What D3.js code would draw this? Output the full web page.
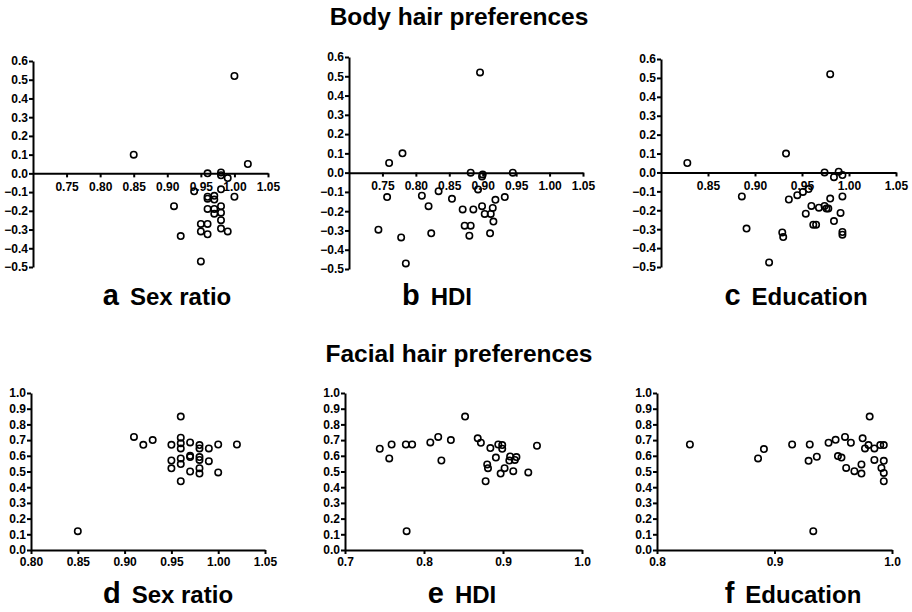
<!DOCTYPE html>
<html>
<head>
<meta charset="utf-8">
<script src="https://cdn.jsdelivr.net/npm/d3@7"></script>
<style>
  body { margin: 0; background: #fff; }
  svg { font-family: "Liberation Sans", Arial, sans-serif; }
  .axis path, .axis line { stroke: #000; stroke-width: 2; }
  .axis text { font-family: "Liberation Sans", Arial, sans-serif; font-size: 12px; font-weight: bold; fill: #000; }
</style>
</head>
<body>
<div id="chart"></div>
<script>
// Body hair preferences (y) against sex ratio, HDI and education (x)
var bodySexRatioX = [1.00, 0.85, 1.02, 0.96, 0.98, 0.98, 0.99, 0.94, 0.98, 0.97, 0.96, 0.96, 0.97, 1.00, 0.91,
                     0.98, 0.96, 0.97, 0.97, 0.98, 0.98, 0.95, 0.96, 0.98, 0.95, 0.99, 0.96, 0.92, 0.95];
var bodySexRatioY = [0.52, 0.10, 0.05, 0.00, 0.005, -0.01, -0.025, -0.096, -0.085, -0.12, -0.125, -0.135, -0.14, -0.125, -0.175,
                     -0.175, -0.19, -0.19, -0.215, -0.21, -0.25, -0.27, -0.27, -0.295, -0.31, -0.31, -0.325, -0.335, -0.47];

var bodyHdiX = [0.896, 0.780, 0.760, 0.882, 0.900, 0.899, 0.945, 0.893, 0.834, 0.809, 0.757, 0.854, 0.933, 0.919, 0.819,
                0.899, 0.870, 0.886, 0.915, 0.903, 0.912, 0.916, 0.873, 0.882, 0.744, 0.823, 0.911, 0.880, 0.778, 0.785];
var bodyHdiY = [0.52, 0.10, 0.05, 0.00, -0.01, -0.02, 0.00, -0.087, -0.096, -0.12, -0.127, -0.136, -0.127, -0.141, -0.174,
                -0.174, -0.191, -0.191, -0.183, -0.214, -0.214, -0.254, -0.275, -0.275, -0.296, -0.315, -0.315, -0.327, -0.336, -0.471];

var bodyEduX = [0.980, 0.933, 0.828, 0.974, 0.989, 0.984, 0.993, 0.993, 0.980, 0.886, 0.936, 0.945, 0.951, 0.957, 0.960,
                0.974, 0.968, 0.976, 0.978, 0.954, 0.991, 0.984, 0.962, 0.965, 0.891, 0.929, 0.930, 0.993, 0.993, 0.915];
var bodyEduY = [0.52, 0.10, 0.05, 0.00, 0.004, -0.025, -0.014, -0.127, -0.138, -0.127, -0.143, -0.12, -0.103, -0.088, -0.177,
                -0.177, -0.186, -0.191, -0.191, -0.218, -0.214, -0.257, -0.276, -0.276, -0.297, -0.317, -0.342, -0.315, -0.329, -0.476];

// Facial hair preferences
var faceSexRatioX = [0.96, 0.91, 0.92, 0.93, 0.95, 0.95, 0.95, 0.96, 0.96, 0.96, 0.96, 0.96, 0.96, 0.97, 0.97,
                     0.97, 0.97, 0.98, 0.98, 0.98, 0.98, 0.98, 0.98, 0.99, 0.99, 1.00, 1.00, 1.02, 0.85];
var faceSexRatioY = [0.85, 0.72, 0.67, 0.70, 0.67, 0.57, 0.52, 0.715, 0.68, 0.647, 0.583, 0.547, 0.438, 0.685, 0.60,
                     0.592, 0.50, 0.668, 0.647, 0.592, 0.574, 0.521, 0.487, 0.647, 0.566, 0.672, 0.494, 0.672, 0.12];

var faceHdiX = [0.852, 0.744, 0.756, 0.759, 0.777, 0.785, 0.778, 0.808, 0.818, 0.822, 0.834, 0.868, 0.872, 0.884, 0.880,
                0.881, 0.878, 0.891, 0.894, 0.899, 0.899, 0.897, 0.902, 0.909, 0.908, 0.917, 0.915, 0.913, 0.932, 0.943];
var faceHdiY = [0.85, 0.645, 0.583, 0.672, 0.672, 0.672, 0.12, 0.685, 0.72, 0.57, 0.70, 0.711, 0.683, 0.649, 0.545,
                0.521, 0.438, 0.589, 0.672, 0.668, 0.645, 0.487, 0.521, 0.596, 0.57, 0.592, 0.574, 0.502, 0.494, 0.664];

var faceEduX = [0.828, 0.886, 0.891, 0.915, 0.929, 0.930, 0.936, 0.933, 0.946, 0.952, 0.954, 0.957, 0.960, 0.961, 0.965,
                0.968, 0.974, 0.974, 0.975, 0.977, 0.980, 0.981, 0.985, 0.985, 0.990, 0.991, 0.993, 0.993, 0.993, 0.993];
var faceEduY = [0.672, 0.583, 0.643, 0.672, 0.568, 0.672, 0.594, 0.12, 0.683, 0.702, 0.598, 0.589, 0.72, 0.523, 0.683,
                0.502, 0.487, 0.545, 0.711, 0.647, 0.668, 0.85, 0.574, 0.647, 0.668, 0.523, 0.668, 0.568, 0.491, 0.438];

var topXTicks = [0.75, 0.80, 0.85, 0.90, 0.95, 1.00, 1.05];
var topXTicksEdu = [0.85, 0.90, 0.95, 1.00, 1.05];
var topYTicks = [0.6, 0.5, 0.4, 0.3, 0.2, 0.1, 0.0, -0.1, -0.2, -0.3, -0.4, -0.5];
var botXTicksSex = [0.80, 0.85, 0.90, 0.95, 1.00, 1.05];
var botXTicksHdi = [0.7, 0.8, 0.9, 1.0];
var botXTicksEdu = [0.8, 0.9, 1.0];
var botYTicks = [0.0, 0.1, 0.2, 0.3, 0.4, 0.5, 0.6, 0.7, 0.8, 0.9, 1.0];

var sectionTitles = ["Body hair preferences", "Facial hair preferences"];

var w = 912, h = 612;
var svg = d3.select("#chart").append("svg")
    .attr("width", w)
    .attr("height", h);

// one entry per panel: data + where it sits on the page
var panels = [
  {letter: "a", name: "Sex ratio", xs: bodySexRatioX, ys: bodySexRatioY, xDom: [0.70, 1.05], yDom: [-0.5, 0.6],
   x0: 33, x1: 268, yTop: 61, yBot: 267, xTicks: topXTicks, yTicks: topYTicks, xf: ".2f", cross: true, lx: 167, ly: 305},
  {letter: "b", name: "HDI", xs: bodyHdiX, ys: bodyHdiY, xDom: [0.70, 1.05], yDom: [-0.5, 0.6],
   x0: 349, x1: 583, yTop: 57, yBot: 269, xTicks: topXTicks, yTicks: topYTicks, xf: ".2f", cross: true, lx: 437, ly: 305},
  {letter: "c", name: "Education", xs: bodyEduX, ys: bodyEduY, xDom: [0.80, 1.05], yDom: [-0.5, 0.6],
   x0: 661, x1: 896, yTop: 59, yBot: 267, xTicks: topXTicksEdu, yTicks: topYTicks, xf: ".2f", cross: true, lx: 796, ly: 305},
  {letter: "d", name: "Sex ratio", xs: faceSexRatioX, ys: faceSexRatioY, xDom: [0.80, 1.05], yDom: [0, 1],
   x0: 31, x1: 265, yTop: 393, yBot: 550, xTicks: botXTicksSex, yTicks: botYTicks, xf: ".2f", cross: false, lx: 168, ly: 603},
  {letter: "e", name: "HDI", xs: faceHdiX, ys: faceHdiY, xDom: [0.7, 1.0], yDom: [0, 1],
   x0: 345, x1: 582, yTop: 393, yBot: 550, xTicks: botXTicksHdi, yTicks: botYTicks, xf: ".1f", cross: false, lx: 462, ly: 603},
  {letter: "f", name: "Education", xs: faceEduX, ys: faceEduY, xDom: [0.8, 1.0], yDom: [0, 1],
   x0: 657, x1: 892, yTop: 393, yBot: 550, xTicks: botXTicksEdu, yTicks: botYTicks, xf: ".1f", cross: false, lx: 793, ly: 603}
];

// section titles
svg.selectAll(".section")
  .data(sectionTitles)
  .enter().append("text")
    .attr("class", "section")
    .attr("x", 459)
    .attr("y", function(d, i) { return i == 0 ? 25 : 362; })
    .attr("text-anchor", "middle")
    .style("font-size", "24.5px")
    .style("font-weight", "bold")
    .text(function(d) { return d; });

panels.forEach(function(p) {
  var x = d3.scaleLinear().domain(p.xDom).range([p.x0, p.x1]);
  var y = d3.scaleLinear().domain(p.yDom).range([p.yBot, p.yTop]);
  var g = svg.append("g");

  // y axis
  g.append("g")
      .attr("class", "axis")
      .attr("transform", "translate(" + p.x0 + ",0)")
      .call(d3.axisLeft(y).tickValues(p.yTicks).tickFormat(d3.format(".1f"))
              .tickSize(4).tickSizeOuter(0).tickPadding(1));

  // x axis, through zero on the top row
  var xPos = p.cross ? y(0) : p.yBot;
  g.append("g")
      .attr("class", "axis")
      .attr("transform", "translate(0," + xPos + ")")
      .call(d3.axisBottom(x).tickValues(p.xTicks).tickFormat(d3.format(p.xf))
              .tickSize(4).tickSizeOuter(0).tickPadding(p.cross ? 5 : 3));

  // points
  g.selectAll(".dot")
    .data(p.xs.map(function(v, i) { return [v, p.ys[i]]; }))
    .enter().append("circle")
      .attr("class", "dot")
      .attr("cx", function(d) { return x(d[0]); })
      .attr("cy", function(d) { return y(d[1]); })
      .attr("r", 3.2)
      .attr("fill", "none")
      .attr("stroke", "#000")
      .attr("stroke-width", 1.6);

  // panel label
  var lab = svg.append("text")
      .attr("x", p.lx)
      .attr("y", p.ly)
      .attr("text-anchor", "middle")
      .style("font-weight", "bold");
  lab.append("tspan").style("font-size", "29px").text(p.letter);
  lab.append("tspan").attr("dx", 11).style("font-size", "24px").text(p.name);
});
</script>
</body>
</html>
